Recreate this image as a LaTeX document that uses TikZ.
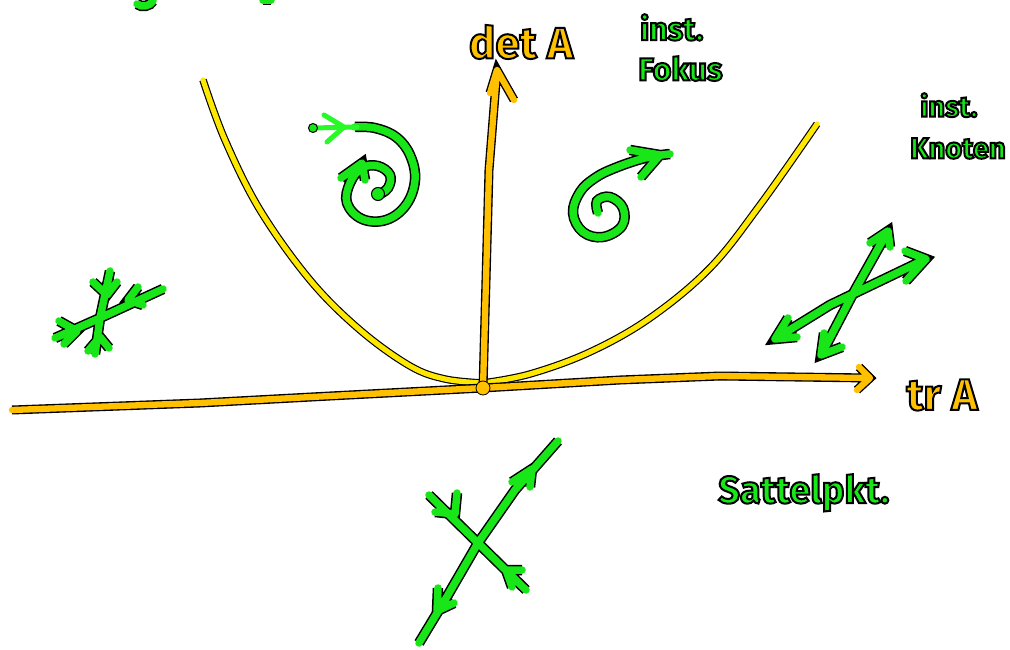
\documentclass[tikz,border=0pt]{standalone}
\usepackage{fontspec}
\setmainfont{Fira Sans}
\definecolor{mygreen}{RGB}{24,230,24}
\definecolor{litegreen}{RGB}{40,250,40}
\definecolor{myorange}{RGB}{255,192,0}
\definecolor{myyellow}{RGB}{255,232,0}
\tikzset{
  gstroke/.style={line cap=round, line join=round,
    preaction={draw=black, line width=10.5pt}, draw=mygreen, line width=7.5pt},
  ostroke/.style={line cap=round, line join=round,
    preaction={draw=black, line width=9pt}, draw=myorange, line width=6.3pt},
  ystroke/.style={line cap=round, line join=round,
    preaction={draw=black, line width=7.5pt}, draw=myyellow, line width=5.2pt},
  glabel/.style={text=mygreen, font=\bfseries\fontsize{32}{34}\selectfont, inner sep=0pt, anchor=north west},
  olabel/.style={text=myorange, font=\bfseries\fontsize{44}{46}\selectfont, inner sep=0pt},
}
\newcommand{\outl}[1]{\special{pdf:code 0 G 2 Tr 2 w}#1\special{pdf:code 0 Tr}}
\begin{document}
\begin{tikzpicture}[x=1pt,y=-1pt]
\useasboundingbox (0,0) rectangle (1010,650);
\fill[white] (0,0) rectangle (1010,650);

% cut-off strokes at top
\draw[gstroke] (137,4) .. controls (142,8) and (150,6) .. (153,1);
\draw[gstroke] (263,0) -- (271,0);

% parabola
\draw[ystroke] plot[smooth, tension=0.6] coordinates {(203,80) (225,140) (260,210) (310,280) (360,330) (410,366) (445,379) (483,383)};
\draw[ystroke] plot[smooth, tension=0.6] coordinates {(483,383) (530,374) (590,352) (650,318) (710,268) (760,205) (817,124)};

% axes
\coordinate (O) at (483,388);
\coordinate (xend) at (870,378);
\coordinate (yend) at (497,70);
\draw[ostroke] (12,410) -- (200,403) -- (330,396) -- (O) -- (620,380) -- (720,376) -- (xend)
  (859,367) -- (xend) -- (857,390)
  (O) -- (486,280) -- (489,170) -- (yend)
  (490,93) -- (yend) -- (514,100);
\fill[myorange, draw=black, line width=0.8pt] (O) circle (7);

% labels axes
\node[olabel] (det) at (521,42) {\outl{det A}};
\node[olabel] (tr) at (942,395) {\outl{tr A}};

% green labels
\node[glabel] (inst1) at (640,14) {\outl{inst.}};
\node[glabel] (fokus) at (638,56) {\outl{Fokus}};
\node[glabel, font=\bfseries\fontsize{29}{30}\selectfont] (inst2) at (920,93) {\outl{inst.}};
\node[glabel, font=\bfseries\fontsize{29}{30}\selectfont] (knoten) at (910,138) {\outl{Knoten}};
\node[glabel, font=\bfseries\fontsize{38}{40}\selectfont] (sattel) at (718,474) {\outl{Sattelpkt.}};

% left spiral (stable focus)
\draw[gstroke] plot[smooth, tension=0.65] coordinates {(355,127) (375,128) (396,137) (410,155) (415,180) (406,205) (386,220) (362,219) (347,203) (350,183) (362,168) (378,166) (390,175) (388,188) (378,195)}
  (341,178) -- (362,163) -- (365,180);
\fill[mygreen, draw=black, line width=1pt] (378,194) circle (6.5);
\draw[litegreen, line width=5pt, line cap=round, line join=round] (313,128) -- (357,127) (324,115) -- (344,127) -- (327,142);
\fill[mygreen, draw=black, line width=1pt] (313,128) circle (4.5);

% right spiral (unstable focus)
\draw[gstroke] plot[smooth, tension=0.65] coordinates {(598,213) (597,201) (610,197) (623,208) (622,226) (603,237) (583,232) (573,213) (580,192) (595,178) (615,168) (645,158) (670,154)}
  (630,150) -- (660,155) -- (641,177);

% unstable node (right)
\draw[gstroke] (775,339) -- (830,305) -- (926,259)
  (905,251) -- (926,259) -- (906,281)
  (788,318) -- (775,339) -- (797,337)
  (821,355) -- (855,290) -- (888,231)
  (870,243) -- (888,231) -- (890,247)
  (824,333) -- (821,355) -- (842,347);

% stable node (left)
\draw[gstroke] (55,338) -- (100,318) -- (163,289)
  (59,321) -- (77,331) -- (64,344)
  (138,287) -- (128,300) -- (143,305)
  (110,271) -- (100,318) -- (95,354)
  (93,282) -- (107,295) -- (117,282)
  (88,351) -- (100,337) -- (109,348);

% saddle
\draw[gstroke] (419,643) -- (445,600) -- (478,543) -- (515,490) -- (558,441)
  (512,482) -- (532,469) -- (530,487)
  (438,588) -- (437,611) -- (454,603)
  (429,495) -- (478,543) -- (526,590)
  (435,512) -- (455,514) -- (457,493)
  (522,570) -- (506,570) -- (512,587);
\end{tikzpicture}
\end{document}
